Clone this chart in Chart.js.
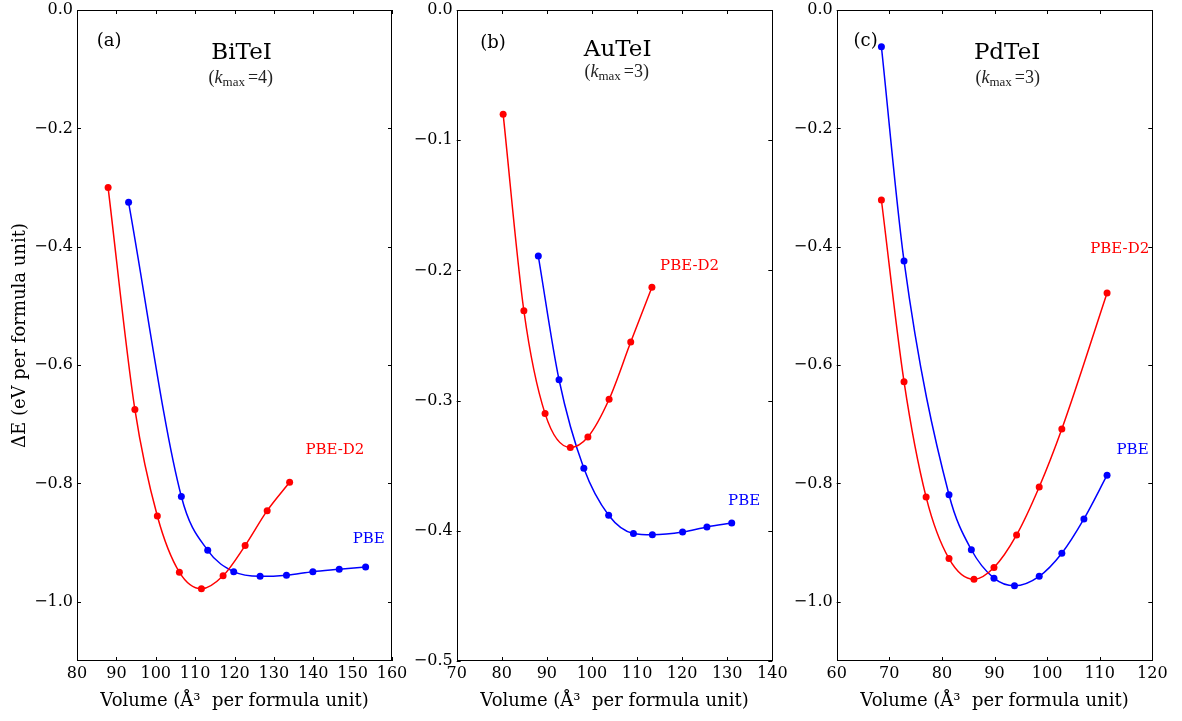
<!DOCTYPE html>
<html lang="en">
  <head>
    <meta charset="UTF-8" />
    <title>Energy versus volume: BiTeI, AuTeI, PdTeI</title>
    <script src="https://cdn.jsdelivr.net/npm/chart.js@4.4.1/dist/chart.umd.min.js"></script>
    <style>
      body { margin: 0; background: #fff; }
      #wrap { position: relative; width: 1182px; height: 721px; }
      #wrap canvas { position: absolute; left: 0; top: 0; }
    </style>
  </head>
  <body>
    <div id="wrap">
      <canvas id="bitei" width="1182" height="721"></canvas>
      <canvas id="autei" width="1182" height="721"></canvas>
      <canvas id="pdtei" width="1182" height="721"></canvas>
    </div>
    <script>
      // BiTeI
      const biteiVolD2 = [87.9, 94.7, 100.4, 106.0, 111.6, 117.1, 122.7, 128.3, 134.0];
      const biteiED2 = [-0.300, -0.675, -0.855, -0.950, -0.978, -0.956, -0.905, -0.846, -0.798];
      const biteiVolPBE = [93.1, 106.5, 113.2, 119.8, 126.5, 133.2, 139.9, 146.6, 153.3];
      const biteiEPBE = [-0.325, -0.822, -0.913, -0.949, -0.957, -0.955, -0.949, -0.945, -0.941];
      const biteiXTicks = [80, 90, 100, 110, 120, 130, 140, 150, 160];
      const biteiYTicks = [0, -0.2, -0.4, -0.6, -0.8, -1.0];

      // AuTeI
      const auteiVolD2 = [80.3, 84.9, 89.6, 95.2, 99.1, 103.8, 108.6, 113.3];
      const auteiED2 = [-0.080, -0.231, -0.310, -0.336, -0.328, -0.299, -0.255, -0.213];
      const auteiVolPBE = [88.1, 92.7, 98.2, 103.7, 109.2, 113.4, 120.1, 125.5, 131.0];
      const auteiEPBE = [-0.189, -0.284, -0.352, -0.388, -0.402, -0.403, -0.401, -0.397, -0.394];
      const auteiXTicks = [70, 80, 90, 100, 110, 120, 130, 140];
      const auteiYTicks = [0, -0.1, -0.2, -0.3, -0.4, -0.5];

      // PdTeI
      const pdteiVolD2 = [68.5, 72.8, 77.0, 81.35, 86.1, 89.9, 94.2, 98.5, 102.8, 111.4];
      const pdteiED2 = [-0.321, -0.628, -0.823, -0.927, -0.962, -0.942, -0.887, -0.806, -0.708, -0.478];
      const pdteiVolPBE = [68.5, 72.8, 81.35, 85.6, 89.9, 93.8, 98.5, 102.8, 107.0, 111.4];
      const pdteiEPBE = [-0.062, -0.424, -0.819, -0.912, -0.960, -0.973, -0.957, -0.918, -0.860, -0.786];
      const pdteiXTicks = [60, 70, 80, 90, 100, 110, 120];
      const pdteiYTicks = [0, -0.2, -0.4, -0.6, -0.8, -1.0];

      const SERIF = '"DejaVu Serif", serif';
      const RED = "#ff0000";
      const BLUE = "#0000ff";

      function pts(xs, ys) {
        return xs.map((x, i) => ({ x: x, y: ys[i] }));
      }

      function curve(label, xs, ys, color) {
        return {
          label: label,
          data: pts(xs, ys),
          borderColor: color,
          backgroundColor: color,
          borderWidth: 1.5,
          pointRadius: 3.5,
          pointBorderWidth: 0,
          cubicInterpolationMode: "monotone",
          fill: false
        };
      }

      // (k_max = n) under the compound name
      function drawKmax(ctx, cx, baseY, n) {
        const parts = [
          { t: "(", f: '18px "Liberation Serif", serif', dy: 0, gap: 0 },
          { t: "k", f: 'italic 18px "Liberation Serif", serif', dy: 0, gap: 0 },
          { t: "max", f: '13px "Liberation Serif", serif', dy: 3, gap: 0 },
          { t: "=", f: '18px "Liberation Serif", serif', dy: 0, gap: 3 },
          { t: String(n) + ")", f: '18px "Liberation Serif", serif', dy: 0, gap: 0 }
        ];
        let total = 0;
        parts.forEach(p => {
          ctx.font = p.f;
          p.w = ctx.measureText(p.t).width;
          total += p.w + p.gap;
        });
        let x = cx - total / 2;
        ctx.fillStyle = "#222";
        ctx.textAlign = "left";
        ctx.textBaseline = "alphabetic";
        parts.forEach(p => {
          x += p.gap;
          ctx.font = p.f;
          ctx.fillText(p.t, x, baseY + p.dy);
          x += p.w;
        });
      }

      // frame, inward ticks on all four sides, and the text inside the axes
      const framePlugin = {
        id: "framePlugin",
        afterDraw(chart, args, opts) {
          const ctx = chart.ctx;
          const a = chart.chartArea;
          const xs = chart.scales.x;
          const ys = chart.scales.y;
          ctx.save();
          ctx.strokeStyle = "#000";
          ctx.lineWidth = 1;
          ctx.strokeRect(Math.round(a.left) + 0.5, Math.round(a.top) + 0.5,
            Math.round(a.right - a.left) - 1, Math.round(a.bottom - a.top) - 1);
          ctx.beginPath();
          xs.ticks.forEach(t => {
            const px = Math.round(xs.getPixelForValue(t.value)) + 0.5;
            ctx.moveTo(px, a.bottom); ctx.lineTo(px, a.bottom - 4);
            ctx.moveTo(px, a.top); ctx.lineTo(px, a.top + 4);
          });
          ys.ticks.forEach(t => {
            const py = Math.round(ys.getPixelForValue(t.value)) + 0.5;
            ctx.moveTo(a.left, py); ctx.lineTo(a.left + 4, py);
            ctx.moveTo(a.right, py); ctx.lineTo(a.right - 4, py);
          });
          ctx.stroke();

          ctx.textBaseline = "alphabetic";
          (opts.notes || []).forEach(n => {
            ctx.font = n.font;
            ctx.fillStyle = n.color;
            ctx.textAlign = n.align;
            ctx.fillText(n.text, xs.getPixelForValue(n.x), ys.getPixelForValue(n.y));
          });
          if (opts.kmax) {
            drawKmax(ctx, xs.getPixelForValue(opts.kmax.x), ys.getPixelForValue(opts.kmax.y), opts.kmax.n);
          }
          ctx.restore();
        }
      };

      function makePanel(id, cfg) {
        return new Chart(document.getElementById(id), {
          type: "line",
          data: {
            datasets: [
              curve("PBE-D2", cfg.volD2, cfg.eD2, RED),
              curve("PBE", cfg.volPBE, cfg.ePBE, BLUE)
            ]
          },
          options: {
            responsive: false,
            animation: false,
            events: [],
            layout: { padding: { left: cfg.padLeft, right: cfg.padRight, top: 10, bottom: 0 } },
            plugins: {
              legend: { display: false },
              tooltip: { enabled: false },
              framePlugin: { notes: cfg.notes, kmax: cfg.kmax }
            },
            scales: {
              x: {
                type: "linear",
                min: cfg.xTicks[0],
                max: cfg.xTicks[cfg.xTicks.length - 1],
                afterBuildTicks: s => { s.ticks = cfg.xTicks.map(v => ({ value: v })); },
                afterFit: s => { s.height = 60; s.paddingLeft = 0; s.paddingRight = 0; },
                grid: { display: false, drawTicks: false },
                border: { display: false },
                ticks: {
                  autoSkip: false,
                  maxRotation: 0,
                  padding: 3,
                  color: "#000",
                  font: { family: SERIF, size: 16 },
                  callback: v => String(v)
                },
                title: {
                  display: true,
                  text: "Volume (Å³  per formula unit)",
                  color: "#000",
                  font: { family: SERIF, size: 18 },
                  padding: { top: 0, bottom: 9 }
                }
              },
              y: {
                type: "linear",
                min: cfg.yMin,
                max: 0,
                afterBuildTicks: s => { s.ticks = cfg.yTicks.map(v => ({ value: v })); },
                afterFit: s => { s.width = cfg.axisWidth; s.paddingTop = 0; s.paddingBottom = 0; },
                grid: { display: false, drawTicks: false },
                border: { display: false },
                ticks: {
                  padding: 4,
                  color: "#000",
                  font: { family: SERIF, size: 16 },
                  callback: v => (v < -1e-9 ? "\u2212" : "") + Math.abs(v).toFixed(1)
                },
                title: {
                  display: cfg.yTitle,
                  text: "ΔE (eV per formula unit)",
                  color: "#000",
                  font: { family: SERIF, size: 18 },
                  padding: { top: 10, bottom: 0 }
                }
              }
            }
          },
          plugins: [framePlugin]
        });
      }

      const noteFont = "15px " + SERIF;
      const tagFont = "18px " + SERIF;
      const nameFont = "23px " + SERIF;

      makePanel("bitei", {
        volD2: biteiVolD2, eD2: biteiED2, volPBE: biteiVolPBE, ePBE: biteiEPBE,
        xTicks: biteiXTicks, yTicks: biteiYTicks, yMin: -1.1,
        padLeft: 0, axisWidth: 77, padRight: 790, yTitle: true,
        notes: [
          { text: "(a)", x: 85, y: -0.06, font: tagFont, color: "#000", align: "left" },
          { text: "BiTeI", x: 121.8, y: -0.082, font: nameFont, color: "#000", align: "center" },
          { text: "PBE-D2", x: 138, y: -0.75, font: noteFont, color: RED, align: "left" },
          { text: "PBE", x: 150, y: -0.90, font: noteFont, color: BLUE, align: "left" }
        ],
        kmax: { x: 121.6, y: -0.123, n: 4 }
      });

      makePanel("autei", {
        volD2: auteiVolD2, eD2: auteiED2, volPBE: auteiVolPBE, ePBE: auteiEPBE,
        xTicks: auteiXTicks, yTicks: auteiYTicks, yMin: -0.5,
        padLeft: 400, axisWidth: 56.7, padRight: 409.7, yTitle: false,
        notes: [
          { text: "(b)", x: 75.2, y: -0.029, font: tagFont, color: "#000", align: "left" },
          { text: "AuTeI", x: 105.7, y: -0.0353, font: nameFont, color: "#000", align: "center" },
          { text: "PBE-D2", x: 115.1, y: -0.200, font: noteFont, color: RED, align: "left" },
          { text: "PBE", x: 130.2, y: -0.380, font: noteFont, color: BLUE, align: "left" }
        ],
        kmax: { x: 105.5, y: -0.0512, n: 3 }
      });

      makePanel("pdtei", {
        volD2: pdteiVolD2, eD2: pdteiED2, volPBE: pdteiVolPBE, ePBE: pdteiEPBE,
        xTicks: pdteiXTicks, yTicks: pdteiYTicks, yMin: -1.1,
        padLeft: 790, axisWidth: 46.7, padRight: 29.7, yTitle: false,
        notes: [
          { text: "(c)", x: 63.2, y: -0.061, font: tagFont, color: "#000", align: "left" },
          { text: "PdTeI", x: 92.4, y: -0.082, font: nameFont, color: "#000", align: "center" },
          { text: "PBE-D2", x: 108.2, y: -0.411, font: noteFont, color: RED, align: "left" },
          { text: "PBE", x: 113.2, y: -0.750, font: noteFont, color: BLUE, align: "left" }
        ],
        kmax: { x: 92.5, y: -0.124, n: 3 }
      });
    </script>
  </body>
</html>
